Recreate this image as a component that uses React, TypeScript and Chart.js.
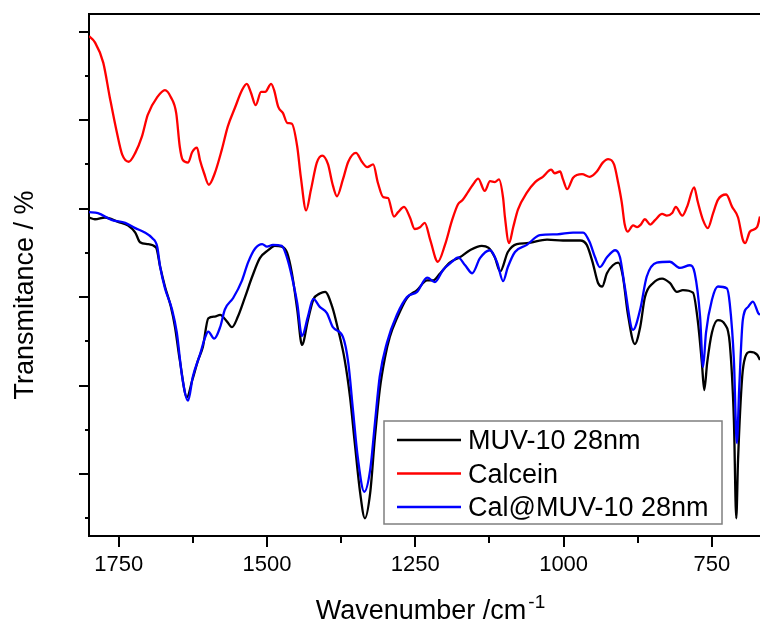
import React, { useEffect, useRef } from "react";
import { Chart, registerables } from "chart.js";

Chart.register(...registerables);

const seriesNames = ["MUV-10 28nm", "Calcein", "Cal@MUV-10 28nm"];
const seriesColors = ["#000000", "#ff0000", "#0000ff"];

const muvWavenumber = [
  1800, 1790, 1773, 1751, 1734, 1722, 1714, 1702, 1687, 1680,
  1672, 1662, 1655, 1647, 1635, 1626, 1616, 1608, 1599, 1588,
  1579, 1567, 1559, 1549, 1537, 1525, 1512, 1498, 1487, 1475,
  1466, 1458, 1449, 1441, 1431, 1422, 1411, 1402, 1390, 1380,
  1369, 1360, 1352, 1343, 1335, 1326, 1318, 1310, 1301, 1293,
  1281, 1264, 1247, 1230, 1220, 1208, 1192, 1175, 1158, 1138,
  1127, 1116, 1107, 1094, 1079, 1062, 1028, 1001, 972, 961,
  951, 942, 935, 927, 917, 908, 900, 892, 880, 871,
  863, 849, 834, 821, 809, 799, 782, 774, 767, 763,
  758, 750, 740, 728, 720, 713, 709, 706, 699, 694,
  686, 674, 669,
];
const muvTransmittance = [
  29.0, 28.8, 29.0, 28.5, 28.1, 27.3, 26.2, 26.0, 25.6, 23.4,
  21.2, 18.9, 16.6, 12.9, 8.7, 10.6, 12.9, 14.4, 17.6, 17.8,
  18.0, 17.2, 16.6, 17.8, 20.0, 22.3, 24.4, 25.3, 25.8, 25.7,
  25.0, 22.7, 18.6, 14.6, 17.4, 19.7, 20.4, 20.6, 18.9, 16.3,
  12.9, 8.7, 3.5, -2.1, -5.0, -2.1, 4.2, 9.5, 13.2, 15.5,
  17.6, 19.9, 20.8, 21.9, 21.9, 22.7, 23.9, 24.5, 25.3, 25.8,
  25.6, 24.5, 22.9, 25.1, 26.0, 26.1, 26.5, 26.4, 26.4, 25.9,
  23.9, 21.6, 21.2, 22.7, 23.6, 23.9, 22.3, 18.2, 14.7, 16.6,
  20.0, 21.6, 22.1, 21.6, 20.6, 20.8, 20.5, 17.4, 12.6, 9.5,
  12.6, 16.0, 17.4, 16.9, 14.8, 6.1, -5.0, 1.6, 11.0, 13.2,
  13.8, 13.5, 12.9,
];

const calceinWavenumber = [
  1800, 1790, 1776, 1765, 1753, 1744, 1733, 1722, 1711, 1701,
  1685, 1672, 1662, 1653, 1647, 1642, 1633, 1626, 1618, 1613,
  1606, 1598, 1588, 1576, 1566, 1554, 1542, 1534, 1527, 1519,
  1510, 1503, 1493, 1488, 1481, 1473, 1466, 1458, 1449, 1443,
  1434, 1426, 1416, 1407, 1397, 1390, 1382, 1372, 1363, 1350,
  1340, 1331, 1321, 1313, 1304, 1296, 1286, 1279, 1269, 1259,
  1251, 1242, 1234, 1225, 1212, 1200, 1188, 1178, 1170, 1161,
  1153, 1144, 1133, 1124, 1116, 1109, 1102, 1099, 1092, 1085,
  1077, 1062, 1048, 1035, 1021, 1015, 1006, 1001, 994, 984,
  969, 956, 944, 934, 925, 915, 908, 902, 897, 892,
  883, 876, 870, 863, 854, 846, 834, 826, 817, 811,
  800, 792, 780, 774, 765, 757, 748, 740, 726, 716,
  706, 698, 694, 686, 674, 669,
];
const calceinTransmittance = [
  49.5, 48.8, 46.5, 42.6, 38.6, 36.1, 35.3, 36.3, 38.1, 40.6,
  42.6, 43.4, 42.6, 40.8, 37.0, 35.5, 35.2, 36.4, 36.9, 35.5,
  34.0, 32.7, 34.0, 36.7, 39.3, 41.4, 43.4, 44.1, 43.1, 41.7,
  43.2, 43.2, 44.1, 43.4, 41.5, 40.8, 39.7, 39.6, 37.0, 33.6,
  29.8, 32.1, 35.2, 36.0, 35.0, 32.9, 31.4, 33.3, 35.3, 36.3,
  35.3, 34.7, 35.0, 32.9, 31.3, 31.2, 29.1, 29.6, 30.2, 29.0,
  27.7, 27.9, 28.4, 26.5, 24.0, 25.9, 28.7, 30.5, 31.0, 31.9,
  32.7, 33.4, 32.0, 33.1, 33.0, 33.3, 31.2, 29.1, 26.1, 27.9,
  29.9, 31.8, 33.0, 33.6, 34.4, 34.0, 34.2, 33.3, 32.2, 33.5,
  33.9, 33.6, 34.2, 35.2, 35.6, 35.0, 32.9, 30.7, 28.2, 27.4,
  28.1, 27.9, 28.2, 28.8, 28.2, 28.7, 29.4, 29.2, 29.5, 30.2,
  29.2, 30.2, 32.4, 30.8, 28.7, 27.8, 29.5, 31.0, 31.6, 30.2,
  29.0, 26.5, 26.1, 27.4, 27.9, 29.1,
];

const calMuvWavenumber = [
  1800, 1785, 1761, 1739, 1722, 1706, 1694, 1685, 1680, 1672,
  1660, 1652, 1643, 1633, 1625, 1613, 1604, 1599, 1589, 1579,
  1571, 1557, 1542, 1532, 1520, 1508, 1500, 1490, 1475, 1466,
  1458, 1449, 1441, 1431, 1422, 1411, 1399, 1389, 1372, 1363,
  1355, 1347, 1336, 1326, 1318, 1310, 1298, 1281, 1264, 1247,
  1230, 1217, 1203, 1188, 1178, 1166, 1154, 1141, 1124, 1112,
  1102, 1094, 1082, 1062, 1040, 1011, 984, 967, 956, 947,
  939, 927, 913, 905, 897, 883, 871, 860, 843, 821,
  804, 787, 779, 770, 765, 760, 750, 740, 725, 720,
  713, 708, 704, 698, 689, 681, 672, 669,
];
const calMuvTransmittance = [
  29.6, 29.5, 28.7, 28.4, 27.8, 27.3, 26.7, 25.7, 23.4, 21.0,
  18.6, 16.0, 11.0, 8.3, 11.0, 13.5, 15.5, 16.1, 15.3, 16.6,
  18.6, 19.9, 21.9, 23.9, 25.5, 26.0, 25.7, 25.9, 25.8, 24.4,
  22.3, 19.3, 15.6, 17.8, 19.8, 18.9, 18.2, 16.6, 15.5, 12.6,
  7.2, 1.9, -2.0, 0.5, 5.8, 11.0, 14.8, 18.0, 20.0, 20.6,
  22.2, 21.7, 23.1, 24.0, 24.5, 23.6, 22.7, 24.4, 25.3, 23.9,
  21.8, 23.4, 25.1, 25.9, 27.0, 27.1, 27.3, 27.3, 26.2, 24.5,
  23.4, 24.5, 25.3, 24.5, 21.2, 16.3, 18.6, 22.3, 23.9, 24.0,
  23.3, 23.6, 22.7, 17.8, 12.1, 16.0, 19.7, 21.2, 21.0, 19.3,
  12.9, 3.5, 9.8, 17.4, 18.9, 19.5, 18.2, 18.0,
];

const xMajorTicks = [1750, 1500, 1250, 1000, 750];
const xMinorTicks = [1625, 1375, 1125, 875];
const yMajorTicks = [0, 10, 20, 30, 40, 50];
const yMinorTicks = [-5, 5, 15, 25, 35, 45];
const xMin = 669;
const xMax = 1800;
const yMin = -7;
const yMax = 52;

const xTitle = "Wavenumber /cm";
const xTitleSup = "-1";
const yTitle = "Transmitance / %";

const FONT = '"Liberation Sans", Arial, sans-serif';

const toPoints = (xs: number[], ys: number[]) => xs.map((x, i) => ({ x, y: ys[i] }));

const decorPlugin = {
  id: "decor",
  afterDraw(chart: any) {
    const { ctx, chartArea, scales } = chart;
    const xs = scales.x;
    const ys = scales.y;
    ctx.save();
    ctx.strokeStyle = "#000";
    ctx.lineWidth = 2;
    // top frame line
    ctx.beginPath();
    ctx.moveTo(chartArea.left - 1, chartArea.top);
    ctx.lineTo(chartArea.right, chartArea.top);
    ctx.stroke();
    // minor ticks
    xMinorTicks.forEach((v) => {
      const px = Math.round(xs.getPixelForValue(v));
      ctx.beginPath();
      ctx.moveTo(px, chartArea.bottom);
      ctx.lineTo(px, chartArea.bottom + 7);
      ctx.stroke();
    });
    yMinorTicks.forEach((v) => {
      const py = Math.round(ys.getPixelForValue(v));
      ctx.beginPath();
      ctx.moveTo(chartArea.left, py);
      ctx.lineTo(chartArea.left - 4, py);
      ctx.stroke();
    });

    // y title
    ctx.fillStyle = "#000";
    ctx.save();
    ctx.translate(chartArea.left - 56, (chartArea.top + chartArea.bottom) / 2 + 20);
    ctx.rotate(-Math.PI / 2);
    ctx.font = `27px ${FONT}`;
    ctx.textAlign = "center";
    ctx.textBaseline = "alphabetic";
    ctx.fillText(yTitle, 0, 0);
    ctx.restore();

    // x title with superscript
    ctx.font = `27px ${FONT}`;
    const w1 = ctx.measureText(xTitle).width;
    ctx.font = `19px ${FONT}`;
    const w2 = ctx.measureText(xTitleSup).width;
    const cx = (chartArea.left + chartArea.right) / 2 + 6;
    const startX = cx - (w1 + w2 + 2) / 2;
    const base = chartArea.bottom + 83;
    ctx.textAlign = "left";
    ctx.textBaseline = "alphabetic";
    ctx.font = `27px ${FONT}`;
    ctx.fillText(xTitle, startX, base);
    ctx.font = `19px ${FONT}`;
    ctx.fillText(xTitleSup, startX + w1 + 2, base - 11);

    // legend box
    const bx = 384;
    const by = 421;
    const bw = 338;
    const bh = 103;
    ctx.fillStyle = "#ffffff";
    ctx.fillRect(bx, by, bw, bh);
    ctx.strokeStyle = "#7f7f7f";
    ctx.lineWidth = 1.5;
    ctx.strokeRect(bx, by, bw, bh);
    ctx.font = `27px ${FONT}`;
    chart.data.datasets.forEach((ds: any, i: number) => {
      const rowY = by + 19 + i * 33.5;
      ctx.strokeStyle = ds.borderColor;
      ctx.lineWidth = 2.3;
      ctx.beginPath();
      ctx.moveTo(bx + 13, rowY);
      ctx.lineTo(bx + 77, rowY);
      ctx.stroke();
      ctx.fillStyle = "#000";
      ctx.textAlign = "left";
      ctx.textBaseline = "alphabetic";
      ctx.fillText(ds.label, bx + 84, rowY + 9);
    });
    ctx.restore();
  },
};

export default function App() {
  const canvasRef = useRef<HTMLCanvasElement | null>(null);

  useEffect(() => {
    const canvas = canvasRef.current;
    if (!canvas) return;
    const seriesX = [muvWavenumber, calceinWavenumber, calMuvWavenumber];
    const seriesY = [muvTransmittance, calceinTransmittance, calMuvTransmittance];
    const drawOrder = [2, 1, 0];
    const chart = new Chart(canvas, {
      type: "line",
      data: {
        datasets: seriesNames.map((name, i) => ({
          label: name,
          data: toPoints(seriesX[i], seriesY[i]),
          borderColor: seriesColors[i],
          backgroundColor: seriesColors[i],
          borderWidth: 2.3,
          pointRadius: 0,
          fill: false,
          cubicInterpolationMode: "monotone" as const,
          order: drawOrder[i],
        })),
      },
      options: {
        animation: false,
        responsive: false,
        maintainAspectRatio: false,
        devicePixelRatio: 1,
        layout: { padding: { top: 14, right: 0, left: 0, bottom: 0 } },
        plugins: {
          legend: { display: false },
          tooltip: { enabled: false },
          title: { display: false },
        },
        scales: {
          x: {
            type: "linear",
            reverse: true,
            min: xMin,
            max: xMax,
            afterBuildTicks: (s: any) => {
              s.ticks = xMajorTicks.map((v) => ({ value: v }));
            },
            afterFit: (s: any) => {
              s.height = 86;
            },
            grid: {
              display: true,
              drawOnChartArea: false,
              drawTicks: true,
              tickLength: 11,
              lineWidth: 2,
              color: "#000",
              tickColor: "#000",
            },
            border: { display: true, width: 2, color: "#000" },
            ticks: {
              color: "#000",
              font: { family: FONT, size: 22 },
              padding: 5,
              maxRotation: 0,
              autoSkip: false,
              callback: (v: any) => String(v),
            },
          },
          y: {
            type: "linear",
            min: yMin,
            max: yMax,
            afterBuildTicks: (s: any) => {
              s.ticks = yMajorTicks.map((v) => ({ value: v }));
            },
            afterFit: (s: any) => {
              s.width = 89;
            },
            grid: {
              display: true,
              drawOnChartArea: false,
              drawTicks: true,
              tickLength: 10,
              lineWidth: 2,
              color: "#000",
              tickColor: "#000",
            },
            border: { display: true, width: 2, color: "#000" },
            ticks: { display: false },
          },
        },
      },
      plugins: [decorPlugin],
    });
    return () => chart.destroy();
  }, []);

  return (
    <div style={{ position: "fixed", left: 0, top: 0, width: 760, height: 622, background: "#fff" }}>
      <canvas ref={canvasRef} width={760} height={622} style={{ display: "block", width: 760, height: 622 }} />
    </div>
  );
}
